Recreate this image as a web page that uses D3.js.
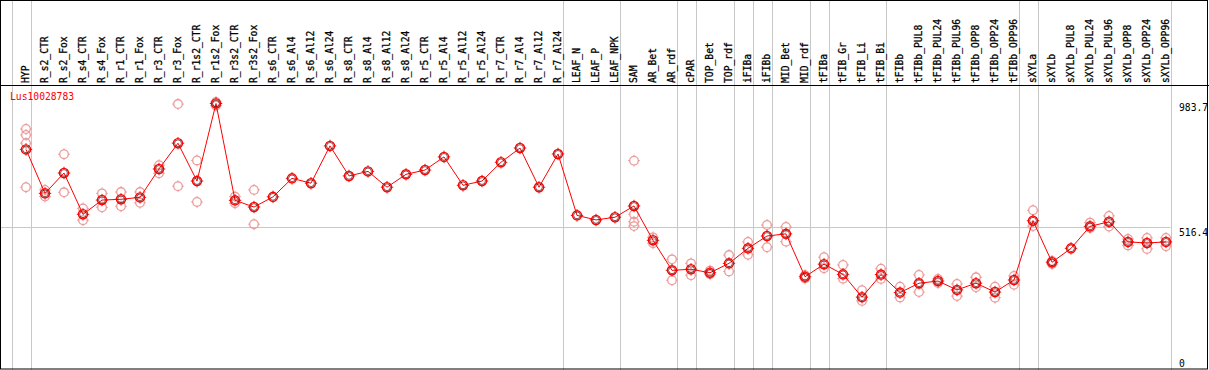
<!DOCTYPE html>
<html>
<head>
<meta charset="utf-8">
<script src="https://cdn.jsdelivr.net/npm/d3@7"></script>
<style>
  body { margin: 0; background: #fff; }
  text { font-family: "DejaVu Sans Mono", monospace; }
</style>
</head>
<body>
<div id="chart"></div>
<script>
/* global d3 */

var geneName = "Lus10028783";

var categories = ["HYP", "R_s2_CTR", "R_s2_Fox", "R_s4_CTR", "R_s4_Fox", "R_r1_CTR", "R_r1_Fox",
  "R_r3_CTR", "R_r3_Fox", "R_r1s2_CTR", "R_r1s2_Fox", "R_r3s2_CTR", "R_r3s2_Fox", "R_s6_CTR",
  "R_s6_Al4", "R_s6_Al12", "R_s6_Al24", "R_s8_CTR", "R_s8_Al4", "R_s8_Al12", "R_s8_Al24",
  "R_r5_CTR", "R_r5_Al4", "R_r5_Al12", "R_r5_Al24", "R_r7_CTR", "R_r7_Al4", "R_r7_Al12", "R_r7_Al24",
  "LEAF_N", "LEAF_P", "LEAF_NPK", "SAM", "AR_Bet", "AR_rdf", "cPAR", "TOP_Bet", "TOP_rdf",
  "iFIBa", "iFIBb", "MID_Bet", "MID_rdf", "tFIBa", "tFIB_Gr", "tFIB_Li", "tFIB_Bi", "tFIBb",
  "tFIBb_PUL8", "tFIBb_PUL24", "tFIBb_PUL96", "tFIBb_OPP8", "tFIBb_OPP24", "tFIBb_OPP96",
  "sXYLa", "sXYLb", "sXYLb_PUL8", "sXYLb_PUL24", "sXYLb_PUL96", "sXYLb_OPP8", "sXYLb_OPP24", "sXYLb_OPP96"];

// mean expression per sample
var meanValues = [807, 643, 719, 565, 618, 621, 628, 734, 830, 689, 978, 617, 592, 630,
  699, 681, 820, 708, 725, 666, 714, 730, 779, 673, 689, 759, 812, 666, 790,
  561, 544, 554, 596, 468, 356, 360, 347, 382, 438, 484, 492, 332, 379, 341, 256, 340,
  273, 308, 316, 283, 308, 275, 320, 541, 386, 438, 520, 537, 462, 458, 462];

// individual replicates (pale circles)
var replicates = [[883, 861, 830, 666], [656, 631], [789, 647], [587, 543], [643, 591], [648, 595],
  [648, 608], [748, 718], [976, 670], [766, 611], [983.7, 970], [631, 606], [656, 528], [],
  [], [], [], [], [], [], [], [], [], [], [], [], [], [], [],
  [], [], [], [765, 565, 537, 521], [479, 457], [397, 319], [382, 338], [355, 341], [413, 352],
  [462, 414], [525, 442], [518, 463], [338, 326], [405, 364], [376, 325], [282, 242], [362, 324],
  [295, 255], [339, 275], [324, 309], [305, 260], [330, 293], [295, 254], [335, 302],
  [580, 521], [391, 380], [], [534, 514], [559, 519], [473, 449], [477, 436], [477, 446]];

// index of the last sample in each group (-1 = left edge)
var groupEnds = [-1, 0, 28, 31, 34, 35, 37, 38, 39, 41, 42, 45, 52, 53, 60];

var axisTicks = [983.7, 516.4, 0];

var width = 1209, height = 370, headerH = 85;

var svg = d3.select("#chart").append("svg")
  .attr("width", width)
  .attr("height", height);

var xScale = d3.scalePoint().domain(categories).range([26, 1166]);
var yScale = d3.scaleLinear().domain([0, 983.7]).range([365.8, 102]);

// group separators
svg.selectAll(".sep")
  .data(groupEnds)
  .enter().append("line")
  .attr("class", "sep")
  .attr("x1", function(d) { return Math.round(xScale(categories[0]) + 19 * d + 4.5) + 0.5; })
  .attr("x2", function(d) { return Math.round(xScale(categories[0]) + 19 * d + 4.5) + 0.5; })
  .attr("y1", 0).attr("y2", height)
  .attr("stroke", "#c8c8c8");

// reference line at the middle tick
svg.append("line")
  .attr("x1", 1).attr("x2", 1170.5)
  .attr("y1", Math.round(yScale(axisTicks[1])) + 0.5)
  .attr("y2", Math.round(yScale(axisTicks[1])) + 0.5)
  .attr("stroke", "#c8c8c8");

// frame
svg.append("rect")
  .attr("x", 0.5).attr("y", 0.5)
  .attr("width", 1207).attr("height", 368.5)
  .attr("fill", "none").attr("stroke", "#000");
svg.append("line")
  .attr("x1", 0).attr("x2", width)
  .attr("y1", headerH + 0.5).attr("y2", headerH + 0.5)
  .attr("stroke", "#000");

// sample labels
svg.selectAll(".lbl")
  .data(categories)
  .enter().append("text")
  .attr("class", "lbl")
  .attr("transform", function(d) {
    return "translate(" + (xScale(d) + 3) + "," + (headerH - 2) + ") rotate(-90) scale(0.88,1)";
  })
  .attr("font-size", "11px")
  .attr("fill", "#000")
  .attr("stroke", "#000")
  .attr("stroke-width", 0.3)
  .text(function(d) { return d; });

// axis labels
svg.selectAll(".tick")
  .data(axisTicks)
  .enter().append("text")
  .attr("class", "tick")
  .attr("transform", function(d) {
    var y = d === 0 ? 367 : yScale(d) + 9;
    return "translate(1179," + y + ") scale(0.88,1)";
  })
  .attr("font-size", "11px")
  .attr("fill", "#000")
  .text(function(d) { return d; });

svg.append("text")
  .attr("transform", "translate(10,100) scale(0.88,1)")
  .attr("font-size", "11px")
  .attr("fill", "#ff0000")
  .text(geneName);

function marker(g, color, r) {
  g.append("circle").attr("r", r).attr("fill", "none")
    .attr("stroke", color).attr("stroke-width", 1.3);
  [[0, -1], [0, 1], [-1, 0], [1, 0]].forEach(function(p) {
    g.append("line")
      .attr("x1", p[0] * r).attr("y1", p[1] * r)
      .attr("x2", p[0] * (r + 1.6)).attr("y2", p[1] * (r + 1.6))
      .attr("stroke", color).attr("stroke-width", 1);
  });
}

// replicate points
var repData = [];
replicates.forEach(function(list, i) {
  list.forEach(function(v) { repData.push({cat: categories[i], value: v}); });
});
svg.selectAll(".rep")
  .data(repData)
  .enter().append("g")
  .attr("class", "rep")
  .attr("transform", function(d) { return "translate(" + xScale(d.cat) + "," + yScale(d.value) + ")"; })
  .each(function() { marker(d3.select(this), "#eb9a9a", 4.3); });

// mean line
var line = d3.line()
  .x(function(d, i) { return xScale(categories[i]); })
  .y(function(d) { return yScale(d); });

svg.append("path")
  .datum(meanValues)
  .attr("d", line)
  .attr("fill", "none")
  .attr("stroke", "#ff0000")
  .attr("stroke-width", 1);

svg.selectAll(".mean")
  .data(meanValues)
  .enter().append("g")
  .attr("class", "mean")
  .attr("transform", function(d, i) { return "translate(" + xScale(categories[i]) + "," + yScale(d) + ")"; })
  .each(function() {
    var g = d3.select(this);
    marker(g, "#ff0000", 4.6);
    g.append("circle").attr("r", 3.4).attr("fill", "none")
      .attr("stroke", "#500000").attr("stroke-width", 0.7);
  });
</script>
</body>
</html>
